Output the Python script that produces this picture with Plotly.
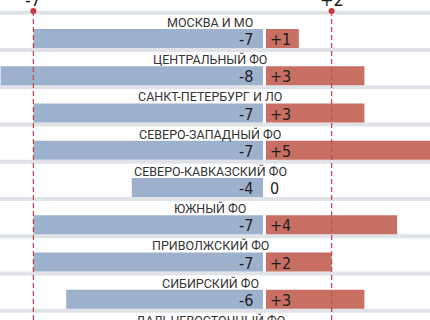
import plotly.graph_objects as go

regions = ["МОСКВА И МО", "ЦЕНТРАЛЬНЫЙ ФО", "САНКТ-ПЕТЕРБУРГ И ЛО", "СЕВЕРО-ЗАПАДНЫЙ ФО",
           "СЕВЕРО-КАВКАЗСКИЙ ФО", "ЮЖНЫЙ ФО", "ПРИВОЛЖСКИЙ ФО", "СИБИРСКИЙ ФО",
           "ДАЛЬНЕВОСТОЧНЫЙ ФО"]
neg_vals = [-7, -8, -7, -7, -4, -7, -7, -6, None]
pos_vals = [1, 3, 3, 5, 0, 4, 2, 3, None]
ref_marks = [-7, 2]
ref_labels = ["-7", "+2"]

BLUE = "#9db0cc"
RED = "#c86f63"
GRID = "#dfe3e8"
LINE_RED = "#bf4e55"
DOT_RED = "#c4353d"
TXT = "#1e1e1e"
LAB_FONT = "Roboto, DejaVu Sans Condensed, sans-serif"
NUM_FONT = "Liberation Sans Narrow, DejaVu Sans Condensed, sans-serif"

gap = 0.046
n = len(regions)
ys = list(range(n))

H = 320.0
ROW_PX = 37.25
Y_TOP = -1.034
Y_BOT = Y_TOP + H / ROW_PX

fig = go.Figure()
fig.add_trace(go.Bar(y=ys, x=neg_vals, base=[-gap] * n, orientation="h",
                     marker=dict(color=BLUE, line=dict(width=0)), width=0.51,
                     hoverinfo="skip"))
fig.add_trace(go.Bar(y=ys, x=pos_vals, base=[gap] * n, orientation="h",
                     marker=dict(color=RED, line=dict(width=0)), width=0.51,
                     hoverinfo="skip"))

shapes = []
for i in range(-1, n):
    shapes.append(dict(type="line", xref="paper", x0=0, x1=1, yref="y",
                       y0=i + 0.309, y1=i + 0.309, line=dict(color=GRID, width=4),
                       layer="below"))
dot_y = -0.738
for m in ref_marks:
    xm = m + (gap if m > 0 else -gap)
    shapes.append(dict(type="line", xref="x", x0=xm, x1=xm, yref="y",
                       y0=dot_y, y1=n + 2, line=dict(color=LINE_RED, width=1.3, dash="5px,3px"),
                       layer="above"))
fig.add_trace(go.Scatter(x=[m + (gap if m > 0 else -gap) for m in ref_marks],
                         y=[dot_y] * len(ref_marks), mode="markers",
                         marker=dict(color=DOT_RED, size=6), hoverinfo="skip"))


def to_paper(yv):
    return (Y_BOT - yv) / (Y_BOT - Y_TOP)


ann = []
for i, (r, a, b) in enumerate(zip(regions, neg_vals, pos_vals)):
    ann.append(dict(x=0.4895, xref="paper", y=to_paper(i - 0.43), yref="paper", text=r,
                    showarrow=False, xanchor="center", yanchor="middle",
                    font=dict(family=LAB_FONT, size=12.5, color="#333333")))
    if a is not None:
        ann.append(dict(x=-gap, y=i, xref="x", yref="y", text=str(a), showarrow=False,
                        xanchor="right", yanchor="middle", xshift=-8, yshift=-1,
                        font=dict(family=NUM_FONT, size=16, color=TXT)))
    if b is not None:
        ann.append(dict(x=gap, y=i, xref="x", yref="y", text=("+%d" % b) if b > 0 else "0",
                        showarrow=False, xanchor="left", yanchor="middle", xshift=2, yshift=-1,
                        font=dict(family=NUM_FONT, size=16, color=TXT)))
for m, t in zip(ref_marks, ref_labels):
    ann.append(dict(x=m + (gap if m > 0 else -gap), xref="x", y=1, yref="paper", text=t,
                    showarrow=False, xanchor="center", yanchor="bottom", yshift=-12,
                    font=dict(family=NUM_FONT, size=18, color=TXT)))

fig.update_layout(
    width=430, height=320, margin=dict(l=0, r=0, t=0, b=0),
    paper_bgcolor="white", plot_bgcolor="white", showlegend=False,
    barmode="overlay", shapes=shapes, annotations=ann,
    xaxis=dict(range=[-8.064, 5.046], visible=False, fixedrange=True),
    yaxis=dict(range=[Y_BOT, Y_TOP], visible=False, fixedrange=True),
)
fig.write_html("out.html")
